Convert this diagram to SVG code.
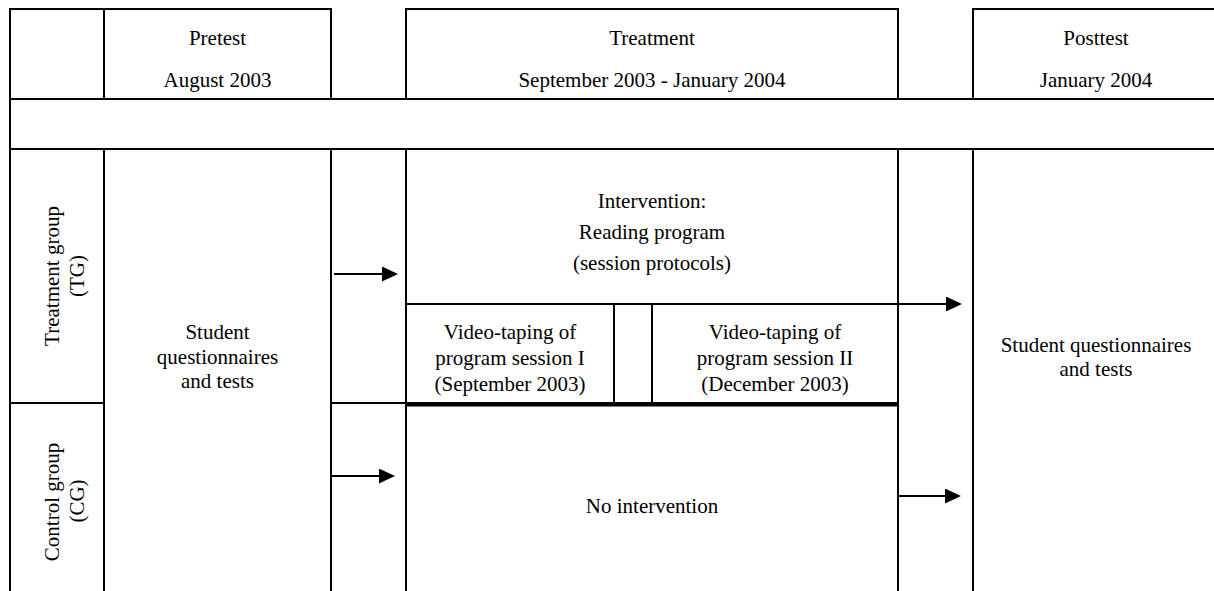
<svg xmlns="http://www.w3.org/2000/svg" width="1214" height="591" viewBox="0 0 1214 591">
  <style>
    .cell { fill: none; stroke: #000; stroke-width: 2; }
    .thick { fill: none; stroke: #000; stroke-width: 4; }
    .conn { fill: none; stroke: #000; stroke-width: 2; }
    text { font-family: "Liberation Serif", "Times New Roman", serif; font-size: 21px; fill: #000; text-anchor: middle; }
  </style>
  <defs>
    <marker id="arrow" viewBox="0 0 16 15" refX="6" refY="7.5" markerWidth="16" markerHeight="15" markerUnits="userSpaceOnUse" orient="auto">
      <path d="M0,0 L16,7.5 L0,15 z" fill="#000"/>
    </marker>
  </defs>
  <rect width="1214" height="591" fill="#fff"/>

  <g id="header-blank"><rect class="cell" x="10" y="9" width="94" height="90"/></g>
  <g id="header-pretest">
    <rect class="cell" x="104" y="9" width="227" height="90"/>
    <text x="217.5" y="45">Pretest</text>
    <text x="217.5" y="87">August 2003</text>
  </g>
  <g id="header-treatment">
    <rect class="cell" x="406" y="9" width="492" height="90"/>
    <text x="652" y="45">Treatment</text>
    <text x="652" y="87">September 2003 - January 2004</text>
  </g>
  <g id="header-posttest">
    <rect class="cell" x="973" y="9" width="250" height="90"/>
    <text x="1096" y="45">Posttest</text>
    <text x="1096" y="87">January 2004</text>
  </g>
  <g id="band"><rect class="cell" x="10" y="99" width="1213" height="50"/></g>

  <g id="tg-label">
    <rect class="cell" x="10" y="149" width="94" height="254"/>
    <text transform="translate(59,276) rotate(-90)">Treatment group</text>
    <text transform="translate(84,276) rotate(-90)">(TG)</text>
  </g>
  <g id="cg-label">
    <rect class="cell" x="10" y="403" width="94" height="200"/>
    <text transform="translate(59,502) rotate(-90)">Control group</text>
    <text transform="translate(84,501) rotate(-90)">(CG)</text>
  </g>
  <g id="pretest-cell">
    <rect class="cell" x="104" y="149" width="227" height="454"/>
    <text x="217.5" y="339">Student</text>
    <text x="217.5" y="364">questionnaires</text>
    <text x="217.5" y="388">and tests</text>
  </g>
  <g id="gap-tg"><rect class="cell" x="331" y="149" width="75" height="254"/></g>
  <g id="gap-cg"><rect class="cell" x="331" y="403" width="75" height="200"/></g>

  <g id="intervention">
    <rect class="cell" x="406" y="149" width="492" height="155"/>
    <text x="652" y="208">Intervention:</text>
    <text x="652" y="239">Reading program</text>
    <text x="652" y="270">(session protocols)</text>
  </g>
  <g id="video-1">
    <rect class="cell" x="406" y="304" width="208" height="99"/>
    <text x="510" y="339">Video-taping of</text>
    <text x="510" y="365">program session I</text>
    <text x="510" y="391">(September 2003)</text>
  </g>
  <g id="video-gap"><rect class="cell" x="614" y="304" width="38" height="99"/></g>
  <g id="video-2">
    <rect class="cell" x="652" y="304" width="246" height="99"/>
    <text x="775" y="339">Video-taping of</text>
    <text x="775" y="365">program session II</text>
    <text x="775" y="391">(December 2003)</text>
  </g>
  <g id="no-intervention">
    <rect class="cell" x="406" y="405" width="492" height="198"/>
    <line class="thick" x1="406" y1="404.5" x2="898" y2="404.5"/>
    <text x="652" y="513">No intervention</text>
  </g>
  <g id="gap-post"><rect class="cell" x="898" y="149" width="75" height="454"/></g>
  <g id="posttest-cell">
    <rect class="cell" x="973" y="149" width="250" height="454"/>
    <text x="1096" y="352">Student questionnaires</text>
    <text x="1096" y="376">and tests</text>
  </g>

  <g id="connectors">
    <line class="conn" x1="334" y1="274" x2="388" y2="274" marker-end="url(#arrow)"/>
    <line class="conn" x1="332" y1="476" x2="385" y2="476" marker-end="url(#arrow)"/>
    <line class="conn" x1="898" y1="304" x2="952" y2="304" marker-end="url(#arrow)"/>
    <line class="conn" x1="899" y1="496" x2="951" y2="496" marker-end="url(#arrow)"/>
  </g>
</svg>
